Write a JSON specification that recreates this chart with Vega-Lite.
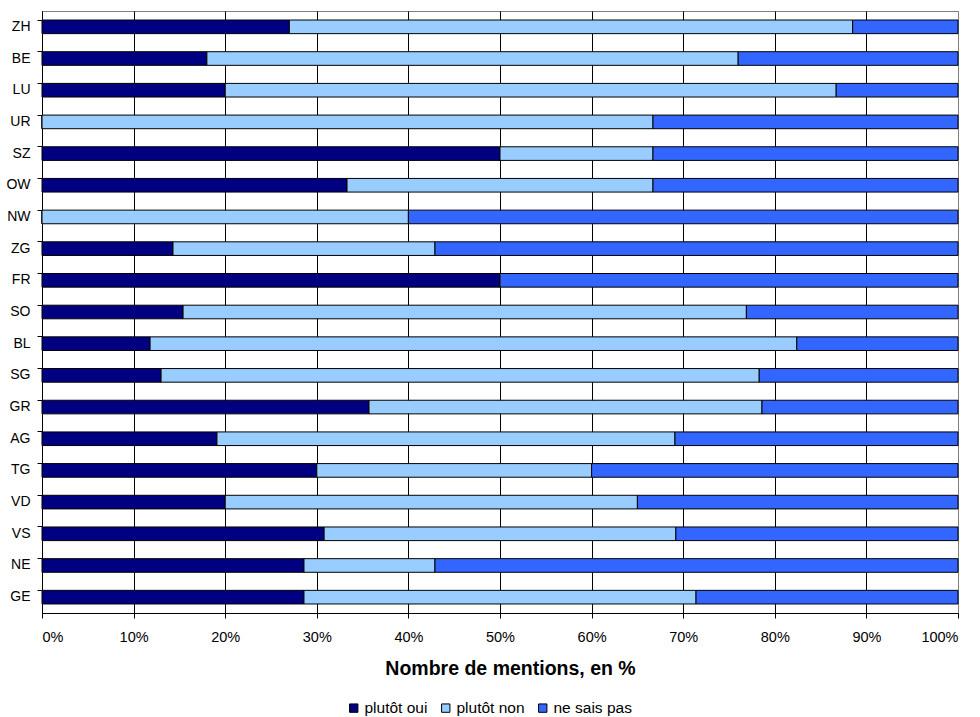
{
  "$schema": "https://vega.github.io/schema/vega-lite/v6.json",
  "width": 916,
  "height": 602,
  "autosize": {"type": "none"},
  "padding": {"left": 42, "top": 11, "right": 22, "bottom": 104},
  "background": "white",
  "data": {
    "values": [
      {"canton": "ZH", "rep": "plutôt oui", "o": 1, "pct": 27.0},
      {"canton": "ZH", "rep": "plutôt non", "o": 2, "pct": 61.5},
      {"canton": "ZH", "rep": "ne sais pas", "o": 3, "pct": 11.5},
      {"canton": "BE", "rep": "plutôt oui", "o": 1, "pct": 18.0},
      {"canton": "BE", "rep": "plutôt non", "o": 2, "pct": 58.0},
      {"canton": "BE", "rep": "ne sais pas", "o": 3, "pct": 24.0},
      {"canton": "LU", "rep": "plutôt oui", "o": 1, "pct": 20.0},
      {"canton": "LU", "rep": "plutôt non", "o": 2, "pct": 66.7},
      {"canton": "LU", "rep": "ne sais pas", "o": 3, "pct": 13.3},
      {"canton": "UR", "rep": "plutôt oui", "o": 1, "pct": 0},
      {"canton": "UR", "rep": "plutôt non", "o": 2, "pct": 66.7},
      {"canton": "UR", "rep": "ne sais pas", "o": 3, "pct": 33.3},
      {"canton": "SZ", "rep": "plutôt oui", "o": 1, "pct": 50.0},
      {"canton": "SZ", "rep": "plutôt non", "o": 2, "pct": 16.7},
      {"canton": "SZ", "rep": "ne sais pas", "o": 3, "pct": 33.3},
      {"canton": "OW", "rep": "plutôt oui", "o": 1, "pct": 33.3},
      {"canton": "OW", "rep": "plutôt non", "o": 2, "pct": 33.4},
      {"canton": "OW", "rep": "ne sais pas", "o": 3, "pct": 33.3},
      {"canton": "NW", "rep": "plutôt oui", "o": 1, "pct": 0},
      {"canton": "NW", "rep": "plutôt non", "o": 2, "pct": 40.0},
      {"canton": "NW", "rep": "ne sais pas", "o": 3, "pct": 60.0},
      {"canton": "ZG", "rep": "plutôt oui", "o": 1, "pct": 14.3},
      {"canton": "ZG", "rep": "plutôt non", "o": 2, "pct": 28.6},
      {"canton": "ZG", "rep": "ne sais pas", "o": 3, "pct": 57.1},
      {"canton": "FR", "rep": "plutôt oui", "o": 1, "pct": 50.0},
      {"canton": "FR", "rep": "plutôt non", "o": 2, "pct": 0},
      {"canton": "FR", "rep": "ne sais pas", "o": 3, "pct": 50.0},
      {"canton": "SO", "rep": "plutôt oui", "o": 1, "pct": 15.4},
      {"canton": "SO", "rep": "plutôt non", "o": 2, "pct": 61.5},
      {"canton": "SO", "rep": "ne sais pas", "o": 3, "pct": 23.1},
      {"canton": "BL", "rep": "plutôt oui", "o": 1, "pct": 11.8},
      {"canton": "BL", "rep": "plutôt non", "o": 2, "pct": 70.6},
      {"canton": "BL", "rep": "ne sais pas", "o": 3, "pct": 17.6},
      {"canton": "SG", "rep": "plutôt oui", "o": 1, "pct": 13.0},
      {"canton": "SG", "rep": "plutôt non", "o": 2, "pct": 65.3},
      {"canton": "SG", "rep": "ne sais pas", "o": 3, "pct": 21.7},
      {"canton": "GR", "rep": "plutôt oui", "o": 1, "pct": 35.7},
      {"canton": "GR", "rep": "plutôt non", "o": 2, "pct": 42.9},
      {"canton": "GR", "rep": "ne sais pas", "o": 3, "pct": 21.4},
      {"canton": "AG", "rep": "plutôt oui", "o": 1, "pct": 19.1},
      {"canton": "AG", "rep": "plutôt non", "o": 2, "pct": 50.0},
      {"canton": "AG", "rep": "ne sais pas", "o": 3, "pct": 30.9},
      {"canton": "TG", "rep": "plutôt oui", "o": 1, "pct": 30.0},
      {"canton": "TG", "rep": "plutôt non", "o": 2, "pct": 30.0},
      {"canton": "TG", "rep": "ne sais pas", "o": 3, "pct": 40.0},
      {"canton": "VD", "rep": "plutôt oui", "o": 1, "pct": 20.0},
      {"canton": "VD", "rep": "plutôt non", "o": 2, "pct": 45.0},
      {"canton": "VD", "rep": "ne sais pas", "o": 3, "pct": 35.0},
      {"canton": "VS", "rep": "plutôt oui", "o": 1, "pct": 30.8},
      {"canton": "VS", "rep": "plutôt non", "o": 2, "pct": 38.4},
      {"canton": "VS", "rep": "ne sais pas", "o": 3, "pct": 30.8},
      {"canton": "NE", "rep": "plutôt oui", "o": 1, "pct": 28.6},
      {"canton": "NE", "rep": "plutôt non", "o": 2, "pct": 14.3},
      {"canton": "NE", "rep": "ne sais pas", "o": 3, "pct": 57.1},
      {"canton": "GE", "rep": "plutôt oui", "o": 1, "pct": 28.6},
      {"canton": "GE", "rep": "plutôt non", "o": 2, "pct": 42.8},
      {"canton": "GE", "rep": "ne sais pas", "o": 3, "pct": 28.6}
    ]
  },
  "mark": {"type": "bar", "stroke": "black", "strokeWidth": 1},
  "encoding": {
    "y": {
      "field": "canton",
      "type": "nominal",
      "sort": null,
      "scale": {"paddingInner": 0.57, "paddingOuter": 0.285},
      "axis": {
        "title": null,
        "bandPosition": 0,
        "labelFont": "Liberation Sans",
        "labelFontSize": 14,
        "labelColor": "black",
        "labelPadding": 7,
        "tickSize": 5,
        "tickColor": "black",
        "domainColor": "black",
        "grid": false
      }
    },
    "x": {
      "field": "pct",
      "type": "quantitative",
      "stack": "zero",
      "scale": {"domain": [0, 100], "nice": false},
      "axis": {
        "values": [0, 10, 20, 30, 40, 50, 60, 70, 80, 90, 100],
        "labelExpr": "datum.value + '%'",
        "labelFont": "Liberation Sans",
        "labelFontSize": 14.5,
        "labelColor": "black",
        "labelPadding": 12,
        "tickSize": 5,
        "tickColor": "black",
        "domainColor": "black",
        "grid": true,
        "gridColor": {"condition": {"test": "datum.value === 100", "value": "#808080"}, "value": "black"},
        "gridOpacity": 1,
        "title": "Nombre de mentions, en %",
        "titleFont": "Liberation Sans",
        "titleFontSize": 19.5,
        "titleFontWeight": "bold",
        "titleColor": "black",
        "titlePadding": 16,
        "titleX": 468
      }
    },
    "color": {
      "field": "rep",
      "type": "nominal",
      "scale": {
        "domain": ["plutôt oui", "plutôt non", "ne sais pas"],
        "range": ["#000080", "#99CCFF", "#3366FF"]
      },
      "legend": {
        "title": null,
        "orient": "none",
        "legendX": 304,
        "legendY": 689,
        "padding": 0,
        "direction": "horizontal",
        "symbolType": "square",
        "symbolSize": 70,
        "symbolStrokeColor": "black",
        "symbolStrokeWidth": 1,
        "symbolOpacity": 1,
        "labelFont": "Liberation Sans",
        "labelFontSize": 15.5,
        "labelColor": "black",
        "labelOffset": 3,
        "columnPadding": 10
      }
    },
    "order": {"field": "o", "type": "quantitative"}
  },
  "config": {
    "view": {"stroke": "#808080", "strokeWidth": 1}
  }
}
